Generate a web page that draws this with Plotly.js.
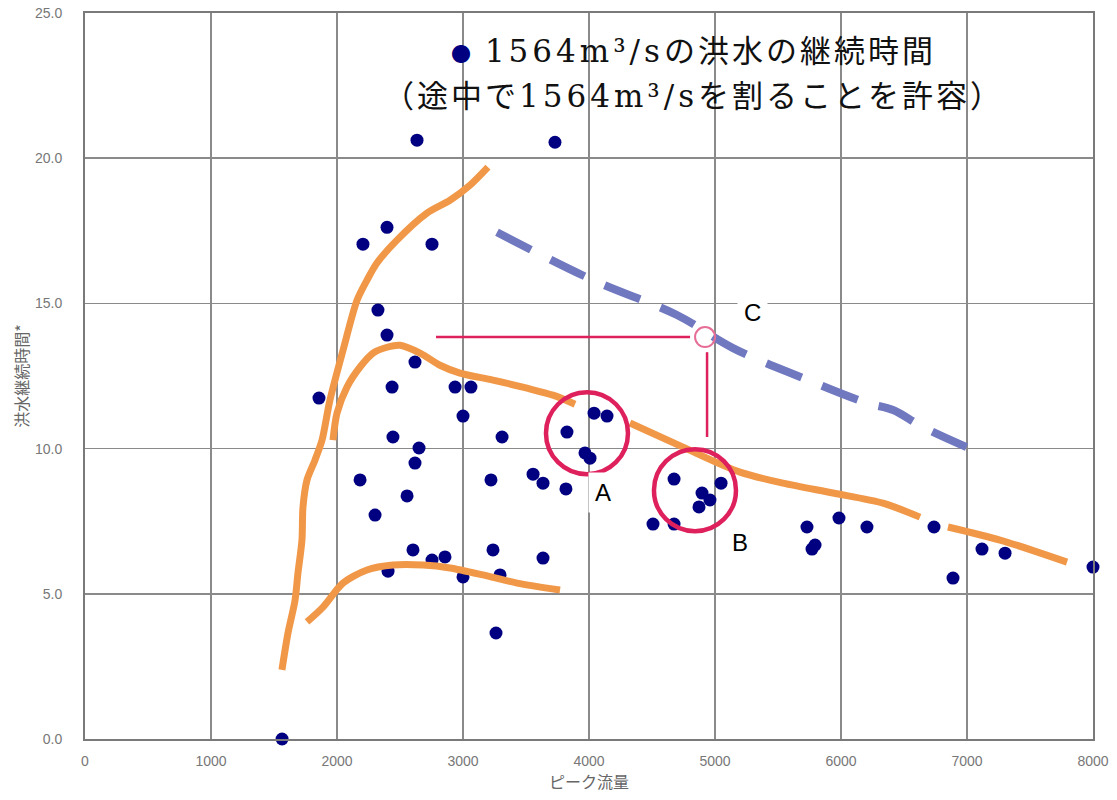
<!DOCTYPE html>
<html>
<head>
<meta charset="utf-8">
<script src="https://cdn.plot.ly/plotly-3.0.1.min.js"></script>
<style>html,body{margin:0;padding:0;background:#fff;}#chart{width:1117px;height:800px;}</style>
</head>
<body>
<div id="chart"></div>
<script>
// Observed floods: peak discharge (m3/s) and duration above 1564 m3/s (h)
const peakFlow = [1564, 1857, 2206, 2397, 2754, 2325, 2397, 2619, 2437, 2937, 3063, 3000, 2444, 2651, 2619, 3310, 2183, 2302, 2556, 3222, 3556, 3635, 3817, 3825, 4040, 4143, 3968, 4008, 2603, 2754, 2857, 2405, 3000, 3238, 3294, 3635, 3262, 2635, 3730, 4675, 5048, 4897, 4960, 4873, 4508, 4675, 5730, 5984, 6206, 5794, 5770, 6738, 7119, 7302, 6889, 8000];
const duration = [0.0, 11.74, 17.04, 17.62, 17.04, 14.77, 13.91, 12.98, 12.12, 12.12, 12.12, 11.12, 10.40, 10.02, 9.50, 10.40, 8.92, 7.71, 8.37, 8.92, 9.12, 8.81, 8.61, 10.57, 11.22, 11.12, 9.85, 9.67, 6.51, 6.16, 6.27, 5.78, 5.58, 6.51, 5.65, 6.23, 3.65, 20.62, 20.55, 8.95, 8.81, 8.47, 8.23, 7.99, 7.40, 7.40, 7.30, 7.61, 7.30, 6.68, 6.54, 7.30, 6.54, 6.40, 5.54, 5.92];

// Hand-drawn orange envelope curves
const upperCurveX = [1563, 1611, 1667, 1690, 1722, 1730, 1762, 1825, 1881, 1944, 2048, 2159, 2238, 2317, 2476, 2714, 2897, 3056, 3198];
const upperCurveY = [2.38, 3.65, 4.78, 5.71, 6.85, 7.99, 8.92, 9.60, 10.29, 11.67, 13.39, 15.11, 15.80, 16.39, 17.18, 18.11, 18.55, 19.07, 19.69];
const middleCurveX = [1968, 2000, 2079, 2183, 2286, 2397, 2500, 2659, 2817, 2976, 3238, 3508, 3714, 3889];
const middleCurveY = [10.29, 11.22, 12.12, 12.81, 13.29, 13.49, 13.56, 13.29, 12.87, 12.60, 12.36, 12.08, 11.84, 11.53];
const middleTailX = [4325, 4746, 5198, 5540, 5937, 6333, 6627];
const middleTailY = [10.88, 10.05, 9.19, 8.81, 8.47, 8.12, 7.64];
const middleEndX = [6849, 7262, 7794];
const middleEndY = [7.30, 6.85, 6.09];
const lowerCurveX = [1762, 1889, 2048, 2238, 2444, 2683, 2897, 3159, 3429, 3770];
const lowerCurveY = [4.03, 4.54, 5.37, 5.82, 5.99, 5.99, 5.89, 5.65, 5.37, 5.13];

// Blue dashed line
const dashedX = [3270, 4032, 4698, 5143, 5698, 6206, 6413, 6651, 7087];
const dashedY = [17.45, 15.80, 14.60, 13.46, 12.43, 11.57, 11.33, 10.74, 9.88];

// Pink guide lines, point C and circles A/B
const guideHX = [2786, 4802];
const guideHY = [13.84, 13.84];
const guideVX = [4937, 4937];
const guideVY = [13.32, 10.40];
const pointCX = [4921];
const pointCY = [13.84];
const circleX = [3984, 4841];
const circleY = [10.53, 8.57];
const labelText = ['A', 'B', 'C'];
const labelX = [4111, 5198, 5294];
const labelY = [8.50, 6.75, 14.70];

const xTicks = [0, 1000, 2000, 3000, 4000, 5000, 6000, 7000, 8000];
const yTicks = [0, 5, 10, 15, 20, 25];
const titleLines = [['1564m³/s', 'の洪水の継続時間'], ['（途中で', '1564m³/s', 'を割ることを許容）']];
const titleX = [4833, 4833];
const titleY = [23.79, 22.24];

const orange = 'rgb(241,152,72)';
const pink = 'rgb(222,32,92)';
const navy = 'rgb(0,0,128)';

function orangeLine(x, y) {
  return {x: x, y: y, type: 'scatter', mode: 'lines', line: {color: orange, width: 7, shape: 'spline', smoothing: 0.8}, hoverinfo: 'skip', showlegend: false, cliponaxis: false};
}

const traces = [
  {x: peakFlow, y: duration, type: 'scatter', mode: 'markers', marker: {color: navy, size: 13, line: {width: 0}}, showlegend: false, cliponaxis: false},
  orangeLine(upperCurveX, upperCurveY),
  orangeLine(middleCurveX, middleCurveY),
  orangeLine(middleTailX, middleTailY),
  orangeLine(middleEndX, middleEndY),
  orangeLine(lowerCurveX, lowerCurveY),
  {x: dashedX, y: dashedY, type: 'scatter', mode: 'lines', line: {color: 'rgb(112,120,192)', width: 8, dash: '38px,22px', shape: 'spline'}, showlegend: false},
  {x: guideHX, y: guideHY, type: 'scatter', mode: 'lines', line: {color: pink, width: 2.5}, showlegend: false},
  {x: guideVX, y: guideVY, type: 'scatter', mode: 'lines', line: {color: pink, width: 2.5}, showlegend: false},
  {x: pointCX, y: pointCY, type: 'scatter', mode: 'markers', marker: {symbol: 'circle-open', size: 20, color: 'rgb(230,110,150)', line: {width: 2}}, showlegend: false},
  {x: circleX, y: circleY, type: 'scatter', mode: 'markers', marker: {symbol: 'circle-open', size: 82, color: pink, line: {width: 4.5}}, showlegend: false}
];

const annotations = [];
for (let i = 0; i < labelText.length; i++) {
  annotations.push({x: labelX[i], y: labelY[i], xref: 'x', yref: 'y', text: labelText[i], showarrow: false,
    font: {family: 'Liberation Sans, Arial, sans-serif', size: 24, color: '#000'}, bgcolor: '#fff', borderpad: 6});
}
const latin = s => '<span style="font-family:DejaVu Serif;letter-spacing:4px">' + s + '</span>';
const cjk = s => '<span style="letter-spacing:3px">' + s + '</span>';
const titleHtml = [
  '<span style="color:' + navy + ';font-size:20px">●</span>  ' + latin(titleLines[0][0]) + cjk(titleLines[0][1]),
  cjk(titleLines[1][0]) + latin(titleLines[1][1]) + cjk(titleLines[1][2])
];
for (let i = 0; i < titleHtml.length; i++) {
  annotations.push({x: titleX[i], y: titleY[i], xref: 'x', yref: 'y', text: titleHtml[i], showarrow: false,
    font: {family: 'Noto Sans CJK JP, sans-serif', size: 31, color: '#111'}});
}

const axisCommon = {showline: true, linecolor: '#7a7a7a', linewidth: 2, mirror: true, showgrid: true, gridcolor: '#8a8a8a', gridwidth: 1.6, zeroline: false, ticks: '',
  tickfont: {family: 'Liberation Sans, Arial, sans-serif', size: 14, color: '#777'}};

const layout = {
  width: 1117, height: 800,
  margin: {l: 85, r: 24, t: 13, b: 61},
  paper_bgcolor: '#fff', plot_bgcolor: '#fff',
  xaxis: Object.assign({}, axisCommon, {range: [0, 8000], tickvals: xTicks, ticktext: xTicks.map(String), ticklabelstandoff: 8,
    title: {text: 'ピーク流量', font: {family: 'Noto Sans CJK JP, sans-serif', size: 16, color: '#666'}, standoff: 2}}),
  yaxis: Object.assign({}, axisCommon, {range: [0, 25], tickvals: yTicks, ticktext: yTicks.map(v => v.toFixed(1)), ticklabelstandoff: 18,
    title: {text: '洪水継続時間*', font: {family: 'Noto Sans CJK JP, sans-serif', size: 16, color: '#666'}, standoff: 2}}),
  annotations: annotations
};

Plotly.newPlot('chart', traces, layout, {displayModeBar: false, staticPlot: true});
</script>
</body>
</html>
